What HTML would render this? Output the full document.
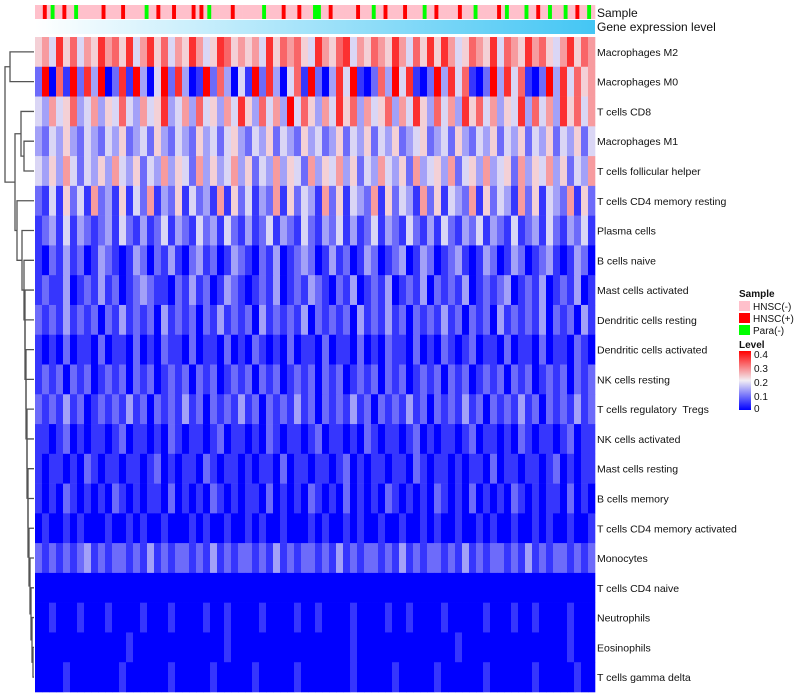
<!DOCTYPE html>
<html><head><meta charset="utf-8">
<style>
html,body{margin:0;padding:0;background:#fff;}
svg{display:block;font-family:"Liberation Sans",Arial,sans-serif;}
text{white-space:pre;}
</style></head>
<body>
<svg id="chart" width="800" height="700">
<defs>
<linearGradient id="geneGrad" x1="0" x2="1" y1="0" y2="0">
<stop offset="0" stop-color="#ffffff"/><stop offset="1" stop-color="#44c6f4"/>
</linearGradient>
<linearGradient id="levelGrad" x1="0" x2="0" y1="1" y2="0">
<stop offset="0" stop-color="#0000ff"/><stop offset="0.5" stop-color="#f2eef4"/><stop offset="1" stop-color="#ff0000"/>
</linearGradient>
</defs>
<g id="sample-bar"></g>
<rect x="35" y="20" width="560" height="14" fill="url(#geneGrad)"/>
<text x="597" y="17" font-size="12" fill="#111">Sample</text>
<text x="597" y="31" font-size="12" fill="#111">Gene expression level</text>
<g id="cells"></g>
<g id="labels"></g>
<g id="dendro" stroke="#555" stroke-width="1.3" fill="none"></g>
<g font-size="10" fill="#111">
<text x="739" y="297" font-weight="bold">Sample</text>
<rect x="739" y="301" width="11" height="10" fill="#ffc0cb"/>
<text x="753" y="310">HNSC(-)</text>
<rect x="739" y="313" width="11" height="10" fill="#ff0000"/>
<text x="753" y="322">HNSC(+)</text>
<rect x="739" y="325" width="11" height="10" fill="#00ff00"/>
<text x="753" y="334">Para(-)</text>
<text x="739" y="348" font-weight="bold">Level</text>
<rect x="739" y="351" width="12" height="59" fill="url(#levelGrad)"/>
<text x="754" y="358">0.4</text>
<text x="754" y="372">0.3</text>
<text x="754" y="386">0.2</text>
<text x="754" y="400">0.1</text>
<text x="754" y="412">0</text>
</g>
</svg>
<script>
const rowLabels=["Macrophages M2","Macrophages M0","T cells CD8","Macrophages M1","T cells follicular helper","T cells CD4 memory resting","Plasma cells","B cells naive","Mast cells activated","Dendritic cells resting","Dendritic cells activated","NK cells resting","T cells regulatory  Tregs","NK cells activated","Mast cells resting","B cells memory","T cells CD4 memory activated","Monocytes","T cells CD4 naive","Neutrophils","Eosinophils","T cells gamma delta"];
const rowLevels=[
"56485746586758468574658645875656485767548657846576586475858645765847658675468576",
"29071928390281930492830192730419283047192038491027394810293847102938471029384756",
"43645734635474364583463745364853746394753648573645736485374638574635483746385746",
"32435324324352342532432534245324352432534235243524352345234253243524352435243524",
"43536424353643524363542635346352436354263546352436435263453624536345263546352436",
"21415241623151426132514231615241326152431625143261524316251432615243162514326152",
"12314132123142131241321423142131241321421324131241321421314213241321412314213241",
"10213120132101320213102312013210213012320131201320123013201231013201320123101320",
"12113012131201232110213120132101213012132102130121301213021213012123012130121301",
"21213121202131212031212021312120312121302121203121312021213120212031212130212031",
"10102011020110201021102011020102101020110201102010211020102101201102011020110210",
"12120212012120212012120212012120212012120212012120212012120212012120212012120212",
"21213120121213120212131202121312021213120212131202121312021213120212131202121312",
"11012010110120110102101101201101021011012011010210110120101101201101021011012011",
"10110102101101101201011021011010110201101101201011011021011010110201101101201011",
"10102101010210101102010102101011020101021010201010210101021010201010210101102010",
"01001010001001010010001010010010100100010100101001001001010010010100100101001001",
"21212123121221213121221213121221213121221213121221213121221213121221213121221212",
"00000000000000000000000000000000000000000000000000000000000000000000000000000000",
"00100010001000010001000010010000100001001000010000100100001000001000100100001000",
"00000000000001000000000000010000000000000000010000000000000010000000000000001000",
"00001000000010000001000001000001000001000000010000010000010000001000000100000100"];
const sampleTypes="pprpgpprppgpppppprpppprpppppgpprppprpppprprpgppppprpppppppgpppprppprpppggpprpppppprpppgpprpppprppppgpprppppprpppgppppprpgppppgpprppgpppgpprppgp";
// dendrogram merges: [left, right, height(px from left edge)]; negative = leaf index, positive = merge id
const merges=[[-0,-1,10],[-3,-4,24],[-2,1,21],[-20,-21,33],[-19,3,32],[-18,4,31],[-17,5,30],[-16,6,29],[-15,7,28],[-14,8,28],[-13,9,27],[-12,10,27],[-11,11,26],[-10,12,26],[-9,13,25],[-8,14,25],[-7,15,24],[-6,16,22],[-5,17,17],[2,18,15],[0,19,5]];

const X0=35,X1=595,Y0=37,Y1=692;
const nRows=rowLabels.length,nCols=rowLevels[0].length;
const rh=(Y1-Y0)/nRows,cw=(X1-X0)/nCols;
function yRow(i){return Y0+i*rh;}
function xCol(j){return X0+j*cw;}
function valOf(d){return d*0.045;}
function color(v){v=Math.max(0,Math.min(0.4,v));
 let r,g,b;
 if(v<0.2){const t=v/0.2;r=Math.round(0+242*t);g=Math.round(0+238*t);b=Math.round(255-11*t);}
 else{const t=(v-0.2)/0.2;r=Math.round(242+13*t);g=Math.round(238-238*t);b=Math.round(244-244*t);}
 return `rgb(${r},${g},${b})`;}
const NS="http://www.w3.org/2000/svg";
const cells=document.getElementById('cells');
for(let i=0;i<nRows;i++){
 for(let j=0;j<nCols;j++){
  const r=document.createElementNS(NS,'rect');
  r.setAttribute('x',xCol(j).toFixed(2));r.setAttribute('y',yRow(i).toFixed(2));
  r.setAttribute('width',(cw+0.3).toFixed(2));r.setAttribute('height',(rh+0.3).toFixed(2));
  r.setAttribute('fill',color(valOf(+rowLevels[i][j])));
  
  
  cells.appendChild(r);
 }
}
const labels=document.getElementById('labels');
rowLabels.forEach((t,i)=>{
 const tx=document.createElementNS(NS,'text');
 tx.setAttribute('x',597);tx.setAttribute('y',(yRow(i)+rh/2+4).toFixed(1));
 tx.setAttribute('font-size','10.5');tx.setAttribute('fill','#111');
 tx.textContent=t;
 
 
 labels.appendChild(tx);
});
const sb=document.getElementById('sample-bar');
const sw=(X1-X0)/sampleTypes.length;
const scol={p:'#ffc0cb',r:'#ff0000',g:'#00ff00'};
for(let j=0;j<sampleTypes.length;j++){
 const r=document.createElementNS(NS,'rect');
 r.setAttribute('x',(X0+j*sw).toFixed(2));r.setAttribute('y',5);
 r.setAttribute('width',(sw+0.3).toFixed(2));r.setAttribute('height',14);
 r.setAttribute('fill',scol[sampleTypes[j]]);
 
 
 sb.appendChild(r);
}
const dendro=document.getElementById('dendro');
const pos=[];
function getNode(ref){
 if(ref<0||Object.is(ref,-0)) {const i=-ref;return [X0-1,yRow(i)+rh/2];}
 return pos[ref];
}
merges.forEach((m,k)=>{
 const a=getNode(m[0]),b=getNode(m[1]),x=m[2];
 const p=document.createElementNS(NS,'path');
 p.setAttribute('d',`M${a[0]},${a[1]}H${x}V${b[1]}H${b[0]}`);
 
 
 dendro.appendChild(p);
 pos[k]=[x,(a[1]+b[1])/2];
});
</script>
</body></html>
